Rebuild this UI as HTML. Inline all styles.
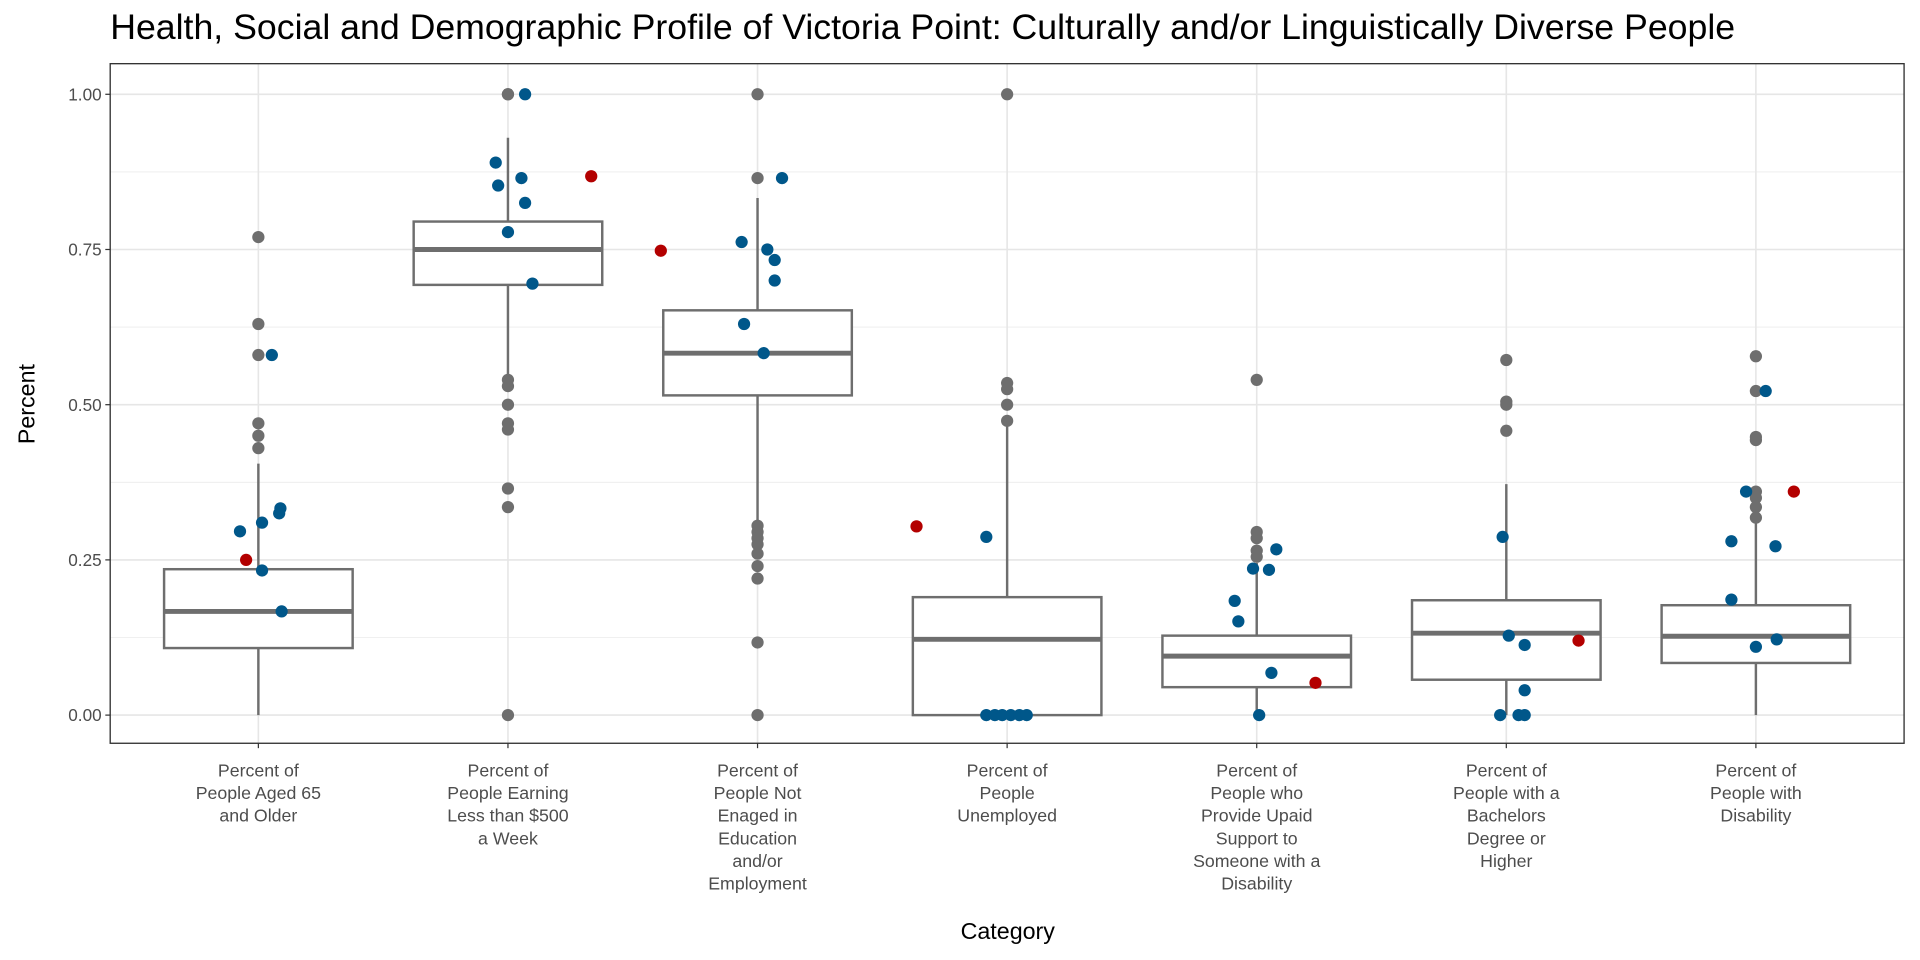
<!DOCTYPE html>
<html><head><meta charset="utf-8"><style>
html,body{margin:0;padding:0;background:#fff;width:1920px;height:960px;overflow:hidden}
#wrap{width:1568px;height:784px;transform:scale(1.22449);transform-origin:0 0}
text{font-family:"Liberation Sans",sans-serif}
</style></head><body><div id="wrap">
<svg id="chart" width="1568" height="784" xmlns="http://www.w3.org/2000/svg"></svg>
</div>
<script>
const categories=["Percent of|People Aged 65|and Older","Percent of|People Earning|Less than $500|a Week","Percent of|People Not|Enaged in|Education|and/or|Employment","Percent of|People|Unemployed","Percent of|People who|Provide Upaid|Support to|Someone with a|Disability","Percent of|People with a|Bachelors|Degree or|Higher","Percent of|People with|Disability"];
const boxStats=[[0,0.108,0.167,0.235,0.405],[0.54,0.693,0.75,0.795,0.93],[0.31,0.515,0.583,0.652,0.833],[0,0,0.122,0.19,0.47],[0,0.045,0.095,0.128,0.245],[0,0.057,0.132,0.185,0.372],[0,0.084,0.127,0.177,0.35]];
const grayPts=[[0.77,0.63,0.58,0.47,0.45,0.43],[1,1,0.54,0.53,0.5,0.47,0.46,0.365,0.335,0],[1,0.865,0.305,0.295,0.285,0.275,0.26,0.24,0.22,0.117,0],[1,0.535,0.525,0.5,0.474],[0.54,0.295,0.285,0.265,0.255],[0.572,0.505,0.5,0.458],[0.578,0.522,0.448,0.443,0.36,0.35,0.335,0.318]];
const blueVals=[[0.58,0.296,0.31,0.333,0.325,0.233,0.167],[1,0.89,0.853,0.865,0.825,0.778,0.695],[0.865,0.762,0.75,0.733,0.7,0.63,0.583],[0.287,0,0,0,0,0,0],[0.267,0.236,0.234,0.184,0.151,0.068,0],[0.287,0.128,0.113,0.04,0,0,0],[0.522,0.36,0.28,0.272,0.186,0.122,0.11]];
const blueJit=[[11,-15,3,18,17,3,19],[14,-10,-8,11,14,0,20],[20,-13,8,14,14,-11,5],[-17,-17,-10,-4,3,10,16],[16,-3,10,-18,-15,12,2],[-3,2,15,15,-5,10,15],[8,-8,-20,16,-20,17,0]];
const redVals=[0.25,0.868,0.748,0.304,0.052,0.12,0.36];
const redJit=[-10,68,-79,-74,48,59,31];
const yTicks=[0,0.25,0.5,0.75,1];
const yTickLabels=["0.00","0.25","0.50","0.75","1.00"];

const svg=document.getElementById('chart');
const NS="http://www.w3.org/2000/svg";
const L=90,R=1555,T=52,B=607;
const y=v=>584-v*507;
const x=i=>211+i*203.83;
function el(t,a,p){const e=document.createElementNS(NS,t);for(const k in a)e.setAttribute(k,a[k]);(p||svg).appendChild(e);return e;}
const title=el('text',{x:90,y:32,'font-size':29,fill:'#000',textLength:1327,lengthAdjust:'spacingAndGlyphs'});title.textContent="Health, Social and Demographic Profile of Victoria Point: Culturally and/or Linguistically Diverse People";

const grid=el('g',{});
yTicks.forEach((v,i)=>{el('line',{x1:L,x2:R,y1:y(v),y2:y(v),stroke:'#e6e6e6','stroke-width':1.3},grid);
 if(i<yTicks.length-1){const m=(v+yTicks[i+1])/2;el('line',{x1:L,x2:R,y1:y(m),y2:y(m),stroke:'#ebebeb','stroke-width':0.7},grid);}});
categories.forEach((c,i)=>el('line',{x1:x(i),x2:x(i),y1:T,y2:B,stroke:'#e6e6e6','stroke-width':1.3},grid));
const yax=el('g',{});
yTicks.forEach((v,i)=>{el('line',{x1:L-4,x2:L,y1:y(v),y2:y(v),stroke:'#333','stroke-width':1},yax);
 const t=el('text',{x:L-7,y:y(v)+5,'font-size':14,fill:'#4d4d4d','text-anchor':'end'},yax);t.textContent=yTickLabels[i];});
const yt=el('text',{x:0,y:0,'font-size':19,fill:'#000','text-anchor':'middle',transform:'translate(28,330) rotate(-90)'});yt.textContent="Percent";

const xt=el('text',{x:823,y:767,'font-size':19,fill:'#000','text-anchor':'middle'});xt.textContent="Category";

categories.forEach((c,i)=>{
 const g=el('g',{});
 el('line',{x1:x(i),x2:x(i),y1:B,y2:B+4,stroke:'#333'},g);
 c.split('|').forEach((ln,k)=>{const t=el('text',{x:x(i),y:634+k*18.5,'font-size':14.5,fill:'#4d4d4d','text-anchor':'middle'},g);t.textContent=ln;});
 const s=boxStats[i],cx=x(i),hw=77;
 el('line',{x1:cx,x2:cx,y1:y(s[0]),y2:y(s[1]),stroke:'#6e6e6e','stroke-width':2},g);
 el('line',{x1:cx,x2:cx,y1:y(s[3]),y2:y(s[4]),stroke:'#6e6e6e','stroke-width':2},g);
 el('rect',{x:cx-hw,y:y(s[3]),width:2*hw,height:y(s[1])-y(s[3]),fill:'#fff',stroke:'#6e6e6e','stroke-width':2},g);
 el('line',{x1:cx-hw,x2:cx+hw,y1:y(s[2]),y2:y(s[2]),stroke:'#6e6e6e','stroke-width':4},g);
 grayPts[i].forEach(v=>el('circle',{cx:cx,cy:y(v),r:5,fill:'#6e6e6e'},g));
 blueVals[i].forEach((v,k)=>el('circle',{cx:cx+blueJit[i][k],cy:y(v),r:5,fill:'#00578a'},g));
 el('circle',{cx:cx+redJit[i],cy:y(redVals[i]),r:5,fill:'#b30000'},g);
});
const fr=el('rect',{x:L,y:T,width:R-L,height:B-T,fill:'none',stroke:'#333','stroke-width':1.1});

</script></body></html>
